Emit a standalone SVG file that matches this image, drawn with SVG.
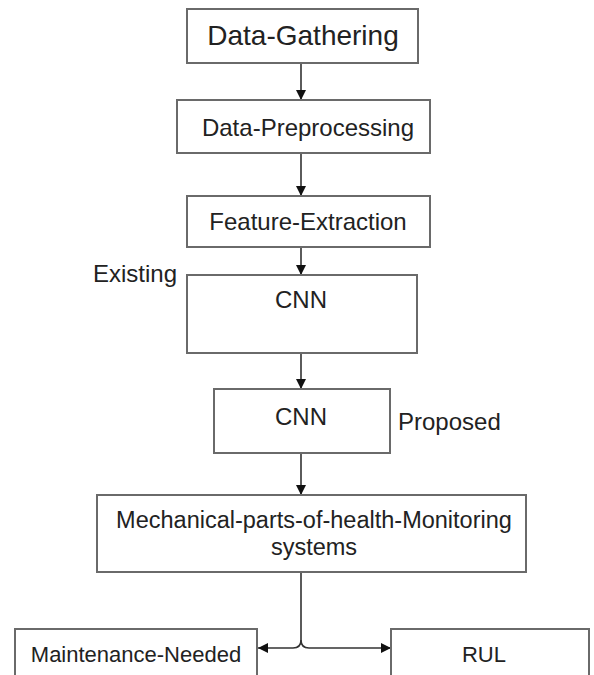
<svg xmlns="http://www.w3.org/2000/svg" width="594" height="675" viewBox="0 0 594 675">
<style>
.box{fill:#fff;stroke:#6a6a6a;stroke-width:2}
.t{font-family:"Liberation Sans",Arial,sans-serif;fill:#222;text-anchor:middle;font-size:24px}
.l{font-family:"Liberation Sans",Arial,sans-serif;fill:#222;font-size:24px}
.c{fill:none;stroke:#333;stroke-width:1.6}
</style>
<defs>
<marker id="ah" viewBox="0 0 10 10" refX="10" refY="5" markerWidth="10" markerHeight="11" markerUnits="userSpaceOnUse" orient="auto">
<path d="M0,0 L10,5 L0,10 z" fill="#111"/>
</marker>
</defs>
<rect width="594" height="675" fill="#fff"/>
<g id="connectors">
<line class="c" x1="301" y1="63" x2="301" y2="100" marker-end="url(#ah)"/>
<line class="c" x1="301" y1="153" x2="301" y2="196" marker-end="url(#ah)"/>
<line class="c" x1="301" y1="247" x2="301" y2="275" marker-end="url(#ah)"/>
<line class="c" x1="301" y1="353" x2="301" y2="389" marker-end="url(#ah)"/>
<line class="c" x1="301" y1="453" x2="301" y2="495" marker-end="url(#ah)"/>
<path class="c" d="M301,572 L301,640 Q301,648 293,648 L258,648" marker-end="url(#ah)"/>
<path class="c" d="M301,640 Q301,648 309,648 L391,648" marker-end="url(#ah)"/>
</g>
<g id="data-gathering">
<rect class="box" x="187" y="9" width="231" height="54"/>
<text class="t" x="303" y="45" style="font-size:28px">Data-Gathering</text>
</g>
<g id="data-preprocessing">
<rect class="box" x="177" y="100" width="253" height="53"/>
<text class="t" x="308" y="136">Data-Preprocessing</text>
</g>
<g id="feature-extraction">
<rect class="box" x="187" y="196" width="243" height="51"/>
<text class="t" x="308" y="230">Feature-Extraction</text>
</g>
<g id="existing-label">
<text class="l" x="93" y="282">Existing</text>
</g>
<g id="cnn-existing">
<rect class="box" x="187" y="275" width="230" height="78"/>
<text class="t" x="301" y="308">CNN</text>
</g>
<g id="cnn-proposed">
<rect class="box" x="214" y="389" width="176" height="64"/>
<text class="t" x="301" y="425">CNN</text>
</g>
<g id="proposed-label">
<text class="l" x="398" y="430">Proposed</text>
</g>
<g id="monitoring">
<rect class="box" x="97" y="495" width="429" height="77"/>
<text class="t" x="314" y="528" style="font-size:23.5px">Mechanical-parts-of-health-Monitoring</text>
<text class="t" x="314" y="555" style="font-size:23.5px">systems</text>
</g>
<g id="maintenance">
<rect class="box" x="15" y="629" width="242" height="60"/>
<text class="t" x="136" y="662" style="font-size:22px">Maintenance-Needed</text>
</g>
<g id="rul">
<rect class="box" x="391" y="629" width="198" height="60"/>
<text class="t" x="484" y="662" style="font-size:22px">RUL</text>
</g>
</svg>
